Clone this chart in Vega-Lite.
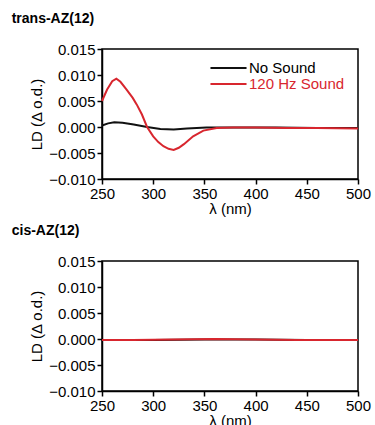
{
  "$schema": "https://vega.github.io/schema/vega-lite/v6.json",
  "padding": {"left": 10, "top": 11, "right": 5, "bottom": 0},
  "config": {
    "font": "Liberation Sans",
    "view": {"stroke": "black", "strokeWidth": 1.5},
    "axis": {
      "grid": false, "domainColor": "black", "domainWidth": 1.5, "tickColor": "black", "tickWidth": 1.5, "tickSize": 5,
      "labelFont": "Liberation Sans", "labelFontSize": 15, "labelColor": "black", "labelFlush": false, "labelOverlap": false,
      "titleFont": "Liberation Sans", "titleFontSize": 15, "titleFontWeight": "normal", "titleColor": "black", "labelPadding": 2
    },
    "title": {"font": "Liberation Sans", "fontSize": 14, "fontWeight": "bold", "anchor": "start", "color": "black"}
  },
  "datasets": {
    "trans": [
      {"nm": 250, "ld": 0.0003, "s": "No Sound"},
      {"nm": 256, "ld": 0.0007, "s": "No Sound"},
      {"nm": 262, "ld": 0.0009, "s": "No Sound"},
      {"nm": 270, "ld": 0.0008, "s": "No Sound"},
      {"nm": 281, "ld": 0.0005, "s": "No Sound"},
      {"nm": 294, "ld": 0.0, "s": "No Sound"},
      {"nm": 307, "ld": -0.0004, "s": "No Sound"},
      {"nm": 320, "ld": -0.0005, "s": "No Sound"},
      {"nm": 333, "ld": -0.0003, "s": "No Sound"},
      {"nm": 352, "ld": -0.0001, "s": "No Sound"},
      {"nm": 380, "ld": -0.0001, "s": "No Sound"},
      {"nm": 420, "ld": -0.0001, "s": "No Sound"},
      {"nm": 460, "ld": -0.0002, "s": "No Sound"},
      {"nm": 500, "ld": -0.0002, "s": "No Sound"},
      {"nm": 250, "ld": 0.0050, "s": "120 Hz Sound"},
      {"nm": 255, "ld": 0.0072, "s": "120 Hz Sound"},
      {"nm": 260, "ld": 0.0088, "s": "120 Hz Sound"},
      {"nm": 264, "ld": 0.0093, "s": "120 Hz Sound"},
      {"nm": 268, "ld": 0.0087, "s": "120 Hz Sound"},
      {"nm": 274, "ld": 0.0072, "s": "120 Hz Sound"},
      {"nm": 280, "ld": 0.0056, "s": "120 Hz Sound"},
      {"nm": 284, "ld": 0.0043, "s": "120 Hz Sound"},
      {"nm": 289, "ld": 0.0024, "s": "120 Hz Sound"},
      {"nm": 294, "ld": 0.0, "s": "120 Hz Sound"},
      {"nm": 300, "ld": -0.0018, "s": "120 Hz Sound"},
      {"nm": 305, "ld": -0.0029, "s": "120 Hz Sound"},
      {"nm": 310, "ld": -0.0037, "s": "120 Hz Sound"},
      {"nm": 315, "ld": -0.0042, "s": "120 Hz Sound"},
      {"nm": 320, "ld": -0.0044, "s": "120 Hz Sound"},
      {"nm": 325, "ld": -0.0040, "s": "120 Hz Sound"},
      {"nm": 330, "ld": -0.0033, "s": "120 Hz Sound"},
      {"nm": 339, "ld": -0.0018, "s": "120 Hz Sound"},
      {"nm": 349, "ld": -0.0007, "s": "120 Hz Sound"},
      {"nm": 362, "ld": -0.0002, "s": "120 Hz Sound"},
      {"nm": 378, "ld": -0.0001, "s": "120 Hz Sound"},
      {"nm": 400, "ld": -0.0001, "s": "120 Hz Sound"},
      {"nm": 430, "ld": -0.0002, "s": "120 Hz Sound"},
      {"nm": 460, "ld": -0.0002, "s": "120 Hz Sound"},
      {"nm": 500, "ld": -0.0003, "s": "120 Hz Sound"}
    ],
    "cis": [
      {"nm": 250, "ld": -0.0002, "s": "No Sound"},
      {"nm": 300, "ld": -0.0002, "s": "No Sound"},
      {"nm": 350, "ld": -0.0001, "s": "No Sound"},
      {"nm": 400, "ld": -0.0001, "s": "No Sound"},
      {"nm": 450, "ld": -0.0002, "s": "No Sound"},
      {"nm": 500, "ld": -0.0002, "s": "No Sound"},
      {"nm": 250, "ld": -0.0002, "s": "120 Hz Sound"},
      {"nm": 280, "ld": -0.0002, "s": "120 Hz Sound"},
      {"nm": 320, "ld": -0.0001, "s": "120 Hz Sound"},
      {"nm": 360, "ld": 0.0, "s": "120 Hz Sound"},
      {"nm": 400, "ld": -0.0001, "s": "120 Hz Sound"},
      {"nm": 440, "ld": -0.0002, "s": "120 Hz Sound"},
      {"nm": 500, "ld": -0.0002, "s": "120 Hz Sound"}
    ]
  },
  "resolve": {"legend": {"color": "independent"}},
  "spacing": 6,
  "vconcat": [
    {
      "title": {"text": "trans-AZ(12)", "dx": -18, "offset": 16},
      "width": 256, "height": 130,
      "data": {"name": "trans"},
      "mark": {"type": "line", "strokeWidth": 2},
      "encoding": {
        "x": {"field": "nm", "type": "quantitative", "scale": {"domain": [250, 500], "nice": false}, "axis": {"values": [250, 300, 350, 400, 450, 500], "title": "λ (nm)", "titlePadding": 0}},
        "y": {"field": "ld", "type": "quantitative", "scale": {"domain": [-0.010, 0.015], "nice": false}, "axis": {"values": [-0.010, -0.005, 0.0, 0.005, 0.010, 0.015], "format": ".3f", "title": "LD (Δ o.d.)", "titlePadding": 4}},
        "color": {"field": "s", "type": "nominal", "sort": ["No Sound", "120 Hz Sound"], "scale": {"domain": ["No Sound", "120 Hz Sound"], "range": ["#111111", "#d8262e"]},
          "legend": {"title": null, "orient": "none", "legendX": 107, "legendY": 11, "symbolType": "stroke", "symbolSize": 1300, "symbolStrokeWidth": 2, "clipHeight": 16, "labelFontSize": 15, "labelFont": "Liberation Sans", "rowPadding": 0, "labelOffset": 1, "labelColor": {"expr": "datum.label == 'No Sound' ? 'black' : '#d8262e'"}}}
      }
    },
    {
      "title": {"text": "cis-AZ(12)", "dx": -18, "offset": 16},
      "width": 256, "height": 130,
      "data": {"name": "cis"},
      "mark": {"type": "line", "strokeWidth": 2},
      "encoding": {
        "x": {"field": "nm", "type": "quantitative", "scale": {"domain": [250, 500], "nice": false}, "axis": {"values": [250, 300, 350, 400, 450, 500], "title": "λ (nm)", "titlePadding": 0}},
        "y": {"field": "ld", "type": "quantitative", "scale": {"domain": [-0.010, 0.015], "nice": false}, "axis": {"values": [-0.010, -0.005, 0.0, 0.005, 0.010, 0.015], "format": ".3f", "title": "LD (Δ o.d.)", "titlePadding": 4}},
        "color": {"field": "s", "type": "nominal", "sort": ["No Sound", "120 Hz Sound"], "scale": {"domain": ["No Sound", "120 Hz Sound"], "range": ["#111111", "#d8262e"]}, "legend": null}
      }
    }
  ]
}
